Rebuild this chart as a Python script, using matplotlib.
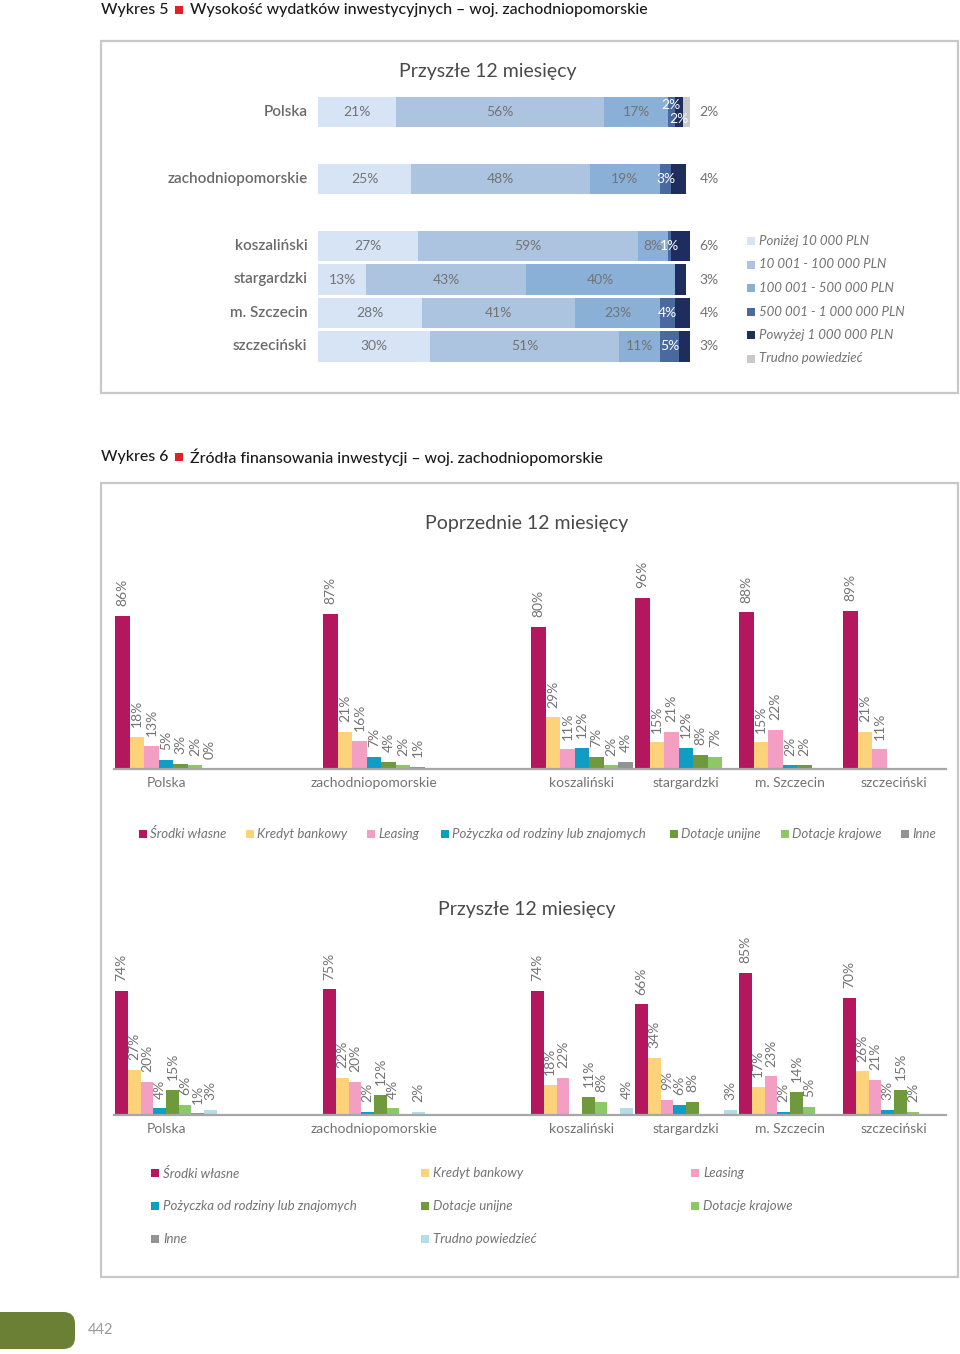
import matplotlib
matplotlib.use('Agg')
import matplotlib.pyplot as plt
from matplotlib.patches import Rectangle, FancyBboxPatch
import numpy as np

W, H = 960, 1354
plt.rcParams['font.family'] = ['Lato', 'DejaVu Sans']

nan = np.nan

# ---------------- data ----------------
regions = ['Polska', 'zachodniopomorskie', 'koszaliński', 'stargardzki',
           'm. Szczecin', 'szczeciński']

amount_cats = ['Poniżej 10 000 PLN', '10 001 - 100 000 PLN', '100 001 - 500 000 PLN',
               '500 001 - 1 000 000 PLN', 'Powyżej 1 000 000 PLN', 'Trudno powiedzieć']
amount_below_10k = [21, 25, 27, 13, 28, 30]
amount_10k_100k = [56, 48, 59, 43, 41, 51]
amount_100k_500k = [17, 19, 8, 40, 23, 11]
amount_500k_1m = [2, 3, 1, 0, 4, 5]
amount_above_1m = [2, 4, 6, 3, 4, 3]
amount_unknown = [2, 0, 0, 0, 0, 0]

sources = ['Środki własne', 'Kredyt bankowy', 'Leasing',
           'Pożyczka od rodziny lub znajomych', 'Dotacje unijne',
           'Dotacje krajowe', 'Inne', 'Trudno powiedzieć']

prev_own = [86, 87, 80, 96, 88, 89]
prev_credit = [18, 21, 29, 15, 15, 21]
prev_leasing = [13, 16, 11, 21, 22, 11]
prev_loan = [5, 7, 12, 12, 2, nan]
prev_eu = [3, 4, 7, 8, 2, nan]
prev_national = [2, 2, 2, 7, nan, nan]
prev_other = [0, 1, 4, nan, nan, nan]

next_own = [74, 75, 74, 66, 85, 70]
next_credit = [27, 22, 18, 34, 17, 26]
next_leasing = [20, 20, 22, 9, 23, 21]
next_loan = [4, 2, nan, 6, 2, 3]
next_eu = [15, 12, 11, 8, 14, 15]
next_national = [6, 4, 8, nan, 5, 2]
next_other = [1, nan, nan, nan, nan, nan]
next_unknown = [3, 2, 4, 3, nan, nan]

# ---------------- styles ----------------
amount_colors = ['#d6e4f5', '#adc4e0', '#8bb0d8', '#4a699f', '#1f2c5e', '#c9c9c9']
source_colors = ['#b5175e', '#fdd27a', '#f29fc3', '#0f9dc4', '#6e9a3b',
                 '#8dc866', '#939393', '#b3dde8']
GRAY = '#737373'
TITLE = '#4a4a4a'
slot_pos = [0, 2, 4, 5, 6, 7]

fig = plt.figure(figsize=(W / 100, H / 100), dpi=100)


def fx(x):
    return x / W


def fy(y):
    return 1 - y / H


def add_ax(left, top, right, bottom):
    return fig.add_axes([fx(left), fy(bottom), (right - left) / W, (bottom - top) / H])


def frame(x0, y0, x1, y1):
    fig.add_artist(Rectangle((fx(x0), fy(y1)), (x1 - x0) / W, (y1 - y0) / H,
                             transform=fig.transFigure, fill=False,
                             edgecolor='#c8c8c8', lw=1.6))


def header(y, num, title):
    fig.text(fx(101), fy(y), f'Wykres {num}', fontsize=11.4, color='#1a1a1a',
             va='center', ha='left', fontweight='medium')
    fig.add_artist(Rectangle((fx(175), fy(y + 4)), 8 / W, 8 / H,
                             transform=fig.transFigure, color='#e3202a', lw=0))
    fig.text(fx(190), fy(y), title, fontsize=11.4, color='#1a1a1a',
             va='center', ha='left', fontweight='medium')


# ---------------- Wykres 5 ----------------
header(10, 5, 'Wysokość wydatków inwestycyjnych – woj. zachodniopomorskie')
frame(101, 41, 958, 393)
fig.text(fx(488), fy(72), 'Przyszłe 12 miesięcy', fontsize=14, color=TITLE,
         ha='center', va='center')

ax5 = add_ax(318, 95.25, 690, 363.25)
amount_series = [amount_below_10k, amount_10k_100k, amount_100k_500k,
                 amount_500k_1m, amount_above_1m, amount_unknown]
ypos = np.array(slot_pos, dtype=float)
left = np.zeros(len(regions))
for k, vals in enumerate(amount_series):
    vals = np.array(vals, dtype=float)
    ax5.barh(ypos, vals, left=left, height=0.92, color=amount_colors[k], lw=0)
    left = left + vals
ax5.set_xlim(0, 100)
ax5.set_ylim(7.5, -0.5)
ax5.axis('off')

# labels
for i, r in enumerate(regions):
    vals = [s[i] for s in amount_series]
    nz = [k for k, v in enumerate(vals) if v > 0]
    last = nz[-1]
    cum = 0
    prev_small = False
    for k, v in enumerate(vals):
        if v <= 0:
            continue
        c = cum + v / 2
        col = 'white' if k in (3, 4) else GRAY
        dy = 0
        if k == last:
            ax5.text(102.5, ypos[i], f'{v}%', color=GRAY, fontsize=10,
                     ha='left', va='center')
        else:
            if v <= 2 and k + 1 < len(vals) and vals[k + 1] <= 2 and k + 1 != last:
                dy = -0.22
            elif v <= 2 and prev_small:
                dy = 0.22
            ax5.text(c, ypos[i] + dy, f'{v}%', color=col, fontsize=10,
                     ha='center', va='center')
        prev_small = (v <= 2 and dy < 0)
        cum += v
    ax5.text(-2.8, ypos[i], r, color='#6a6a6a', fontsize=11, fontweight='semibold',
             ha='right', va='center')

# legend 5
for k, name in enumerate(amount_cats):
    yy = 241 + k * 23.5
    fig.add_artist(Rectangle((fx(747), fy(yy + 4)), 8 / W, 8 / H,
                             transform=fig.transFigure, color=amount_colors[k], lw=0))
    fig.text(fx(759), fy(yy), name, fontsize=9.5, color=GRAY, style='italic',
             ha='left', va='center')

# ---------------- Wykres 6 ----------------
header(457, 6, 'Źródła finansowania inwestycji – woj. zachodniopomorskie')
frame(101, 483, 958, 1277)


def grouped(ax, series, nslots):
    w = 0.98 / nslots
    x = np.array(slot_pos, dtype=float)
    for k, vals in enumerate(series):
        vals = np.array(vals, dtype=float)
        xs = x - 0.49 + w * (k + 0.5)
        ax.bar(xs, np.nan_to_num(vals), width=w, color=source_colors[k], lw=0)
        for xx, v in zip(xs, vals):
            if np.isnan(v):
                continue
            ax.annotate(f'{int(v)}%', (xx, v), xytext=(0, 7), textcoords='offset points',
                        rotation=90, ha='center', va='bottom', fontsize=10,
                        color=GRAY, annotation_clip=False)
    ax.set_xlim(-0.5, 7.5)
    ax.set_ylim(0, 100)
    for s in ('top', 'left', 'right'):
        ax.spines[s].set_visible(False)
    ax.spines['bottom'].set_color('#a6a6a6')
    ax.spines['bottom'].set_linewidth(1.6)
    ax.set_yticks([])
    ax.set_xticks(slot_pos)
    ax.set_xticklabels(regions, fontsize=10, color=GRAY)
    ax.tick_params(axis='x', length=0, pad=6)
    ax.patch.set_alpha(0)


fig.text(fx(527), fy(523), 'Poprzednie 12 miesięcy', fontsize=14, color=TITLE,
         ha='center', va='center')
ax6a = add_ax(114, 591, 946, 769)
grouped(ax6a, [prev_own, prev_credit, prev_leasing, prev_loan, prev_eu,
               prev_national, prev_other], 7)

leg1_x = [139, 246, 367, 441, 670, 781, 901]
for k in range(7):
    fig.add_artist(Rectangle((fx(leg1_x[k]), fy(838)), 8 / W, 8 / H,
                             transform=fig.transFigure, color=source_colors[k], lw=0))
    fig.text(fx(leg1_x[k] + 11), fy(834), sources[k], fontsize=9.5, color=GRAY,
             style='italic', ha='left', va='center')

fig.text(fx(527), fy(910), 'Przyszłe 12 miesięcy', fontsize=14, color=TITLE,
         ha='center', va='center')
ax6b = add_ax(114, 947.5, 946, 1115)
grouped(ax6b, [next_own, next_credit, next_leasing, next_loan, next_eu,
               next_national, next_other, next_unknown], 8)

leg2_cols = [151, 421, 691]
leg2_rows = [1173, 1206, 1239]
for k in range(8):
    cx = leg2_cols[k % 3]
    cy = leg2_rows[k // 3]
    fig.add_artist(Rectangle((fx(cx), fy(cy + 4)), 8 / W, 8 / H,
                             transform=fig.transFigure, color=source_colors[k], lw=0))
    fig.text(fx(cx + 12), fy(cy), sources[k], fontsize=9.5, color=GRAY,
             style='italic', ha='left', va='center')

# page footer
fig.add_artist(FancyBboxPatch((fx(-30), fy(1349)), 105 / W, 37 / H,
                              boxstyle='round,pad=0,rounding_size=0.012',
                              transform=fig.transFigure, color='#6b8034', lw=0,
                              mutation_aspect=W / H))
fig.text(fx(88), fy(1330), '442', fontsize=10.5, color='#9a9a9a', ha='left', va='center')

fig.savefig('out.png', dpi=100)
